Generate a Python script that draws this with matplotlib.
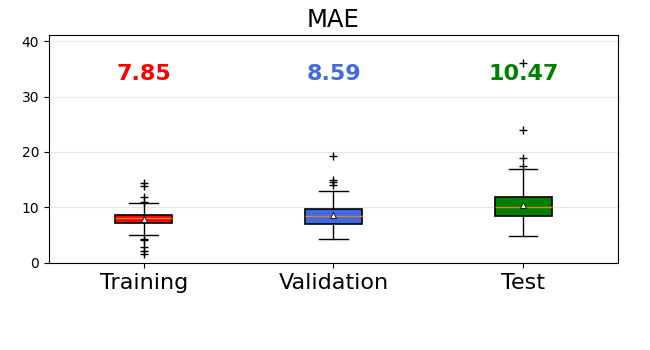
import matplotlib
matplotlib.use("Agg")
import matplotlib.pyplot as plt

labels = ["Training", "Validation", "Test"]
colors = ["red", "royalblue", "green"]
means = [7.85, 8.59, 10.47]
q1 = [7.2, 7.0, 8.47]
med = [8.1, 8.45, 10.15]
q3 = [8.65, 9.65, 11.95]
whislo = [5.0, 4.3, 4.85]
whishi = [10.8, 13.0, 17.0]
fliers = [
    [14.4, 13.9, 11.9, 11.0, 4.3, 4.1, 2.8, 2.2, 1.6],
    [19.3, 14.9, 14.5, 14.1],
    [36.1, 24.0, 19.0, 17.4],
]

stats = []
for i, name in enumerate(labels):
    stats.append({
        "label": name, "mean": means[i], "med": med[i], "q1": q1[i], "q3": q3[i],
        "whislo": whislo[i], "whishi": whishi[i], "fliers": fliers[i],
    })

fig = plt.figure(figsize=(6.5, 3.5), dpi=100)
ax = fig.add_axes([0.075, 0.249, 0.876, 0.651])

bp = ax.bxp(
    stats, widths=0.3, patch_artist=True, showmeans=True,
    flierprops=dict(marker="+", markeredgecolor="black", markersize=6),
    meanprops=dict(marker="^", markerfacecolor="white", markeredgecolor="black",
                   markersize=4, markeredgewidth=0.6),
    medianprops=dict(color="#d9822b"),
    boxprops=dict(linewidth=1.2),
)
for box, c in zip(bp["boxes"], colors):
    box.set_facecolor(c)
    box.set_edgecolor("black")

for i, (m, c) in enumerate(zip(means, colors)):
    ax.text(i + 1, 34.0, f"{m:.2f}", color=c, fontsize=16, fontweight="bold",
            ha="center", va="center")

ax.set_ylim(0, 41.1)
ax.set_xlim(0.5, 3.5)
ax.set_yticks([0, 10, 20, 30, 40])
ax.tick_params(axis="x", labelsize=16)
ax.yaxis.grid(True, color="#e6e6e6", linewidth=0.8)
ax.set_axisbelow(True)
ax.set_title("MAE", fontsize=17.5)

fig.savefig("out.png", dpi=100)
